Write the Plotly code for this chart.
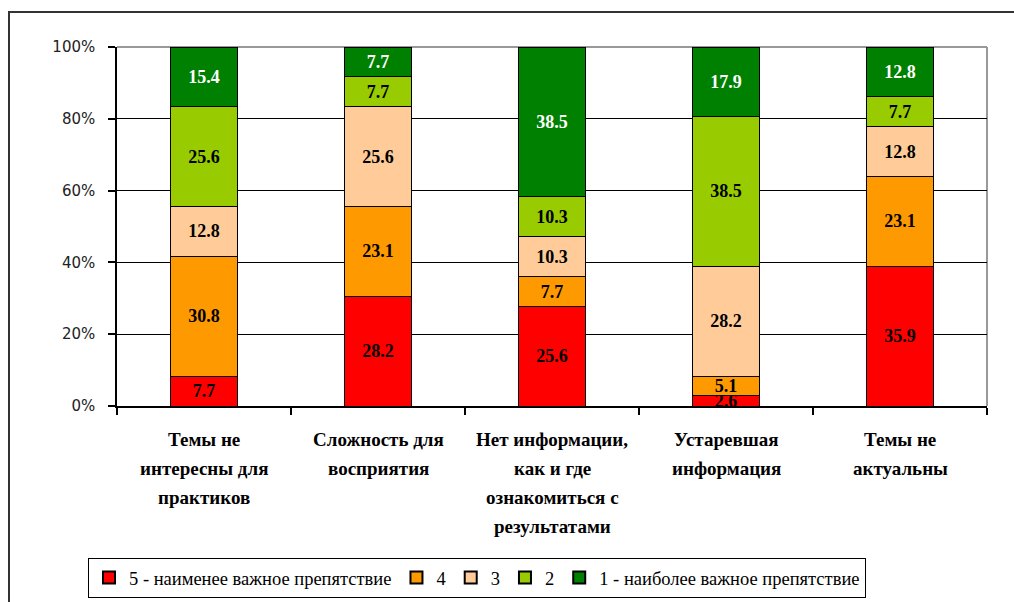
import plotly.graph_objects as go

categories = [
    "Темы не<br>интересны для<br>практиков",
    "Сложность для<br>восприятия",
    "Нет информации,<br>как и где<br>ознакомиться с<br>результатами",
    "Устаревшая<br>информация",
    "Темы не<br>актуальны",
]
series_names = [
    "5 - наименее важное препятствие",
    "4",
    "3",
    "2",
    "1 - наиболее важное препятствие",
]
s5 = [7.7, 28.2, 25.6, 2.6, 35.9]
s4 = [30.8, 23.1, 7.7, 5.1, 23.1]
s3 = [12.8, 25.6, 10.3, 28.2, 12.8]
s2 = [25.6, 7.7, 10.3, 38.5, 7.7]
s1 = [15.4, 7.7, 38.5, 17.9, 12.8]
series_values = [s5, s4, s3, s2, s1]
colors = ["#FF0000", "#FF9900", "#FFCC99", "#99CC00", "#008000"]
text_colors = ["#000000", "#000000", "#000000", "#000000", "#FFFFFF"]
y_ticks = [0, 20, 40, 60, 80, 100]

x_keys = [c.replace("<br>", " ") for c in categories]

fig = go.Figure()
for name, vals, col, tcol in zip(series_names, series_values, colors, text_colors):
    fig.add_trace(go.Bar(
        x=x_keys, y=vals, name=name,
        marker=dict(color=col, line=dict(color="#000000", width=1)),
        text=[f"{v:.1f}" for v in vals],
        texttemplate="%{text}",
        textposition="inside",
        insidetextanchor="middle",
        textangle=0,
        insidetextfont=dict(family="Liberation Serif", size=18, color=tcol, weight="bold"),
        cliponaxis=False,
    ))

L, R, T, B = 117, 27, 47, 196
W, H = 1014, 602
pw, ph = W - L - R, H - T - B

def px_x(x):
    return (x - L) / pw

def px_y(y):
    return (H - B - y) / ph

shapes = [
    # outer chart frame
    dict(type="rect", xref="paper", yref="paper",
         x0=px_x(9), x1=px_x(1030), y0=px_y(620), y1=px_y(12),
         line=dict(color="#333333", width=2), fillcolor="rgba(0,0,0,0)", layer="below"),
    # plot area top/right frame (gray)
    dict(type="line", xref="paper", yref="paper", x0=0, x1=1, y0=1, y1=1,
         line=dict(color="#999999", width=2), layer="between"),
    dict(type="line", xref="paper", yref="paper", x0=1, x1=1, y0=0, y1=1,
         line=dict(color="#999999", width=2), layer="between"),
]

annotations = []
for key, cat in zip(x_keys, categories):
    for i, line in enumerate(cat.split("<br>")):
        annotations.append(dict(
            x=key, y=0, xref="x", yref="paper", text=line, showarrow=False,
            yanchor="middle", xanchor="center", yshift=-(33 + 29 * i),
            font=dict(family="Liberation Serif", size=19, color="#000000", weight="bold"),
        ))

fig.update_layout(
    width=W, height=H,
    barmode="stack", barnorm="percent", bargap=0.615,
    margin=dict(l=L, r=R, t=T, b=B, pad=0),
    paper_bgcolor="#FFFFFF", plot_bgcolor="#FFFFFF",
    showlegend=True,
    legend=dict(
        orientation="h", xref="container", yref="container",
        x=88 / W, xanchor="left", y=1 - 558 / H, yanchor="top",
        bgcolor="#FFFFFF", bordercolor="#000000", borderwidth=1,
        font=dict(family="Liberation Serif", size=18.5, color="#000000"),
        traceorder="normal", itemsizing="constant",
    ),
    uniformtext=dict(minsize=18, mode="show"),
    shapes=shapes,
    annotations=annotations,
)
fig.update_xaxes(
    type="category", showticklabels=False, showgrid=False,
    showline=True, linecolor="#000000", linewidth=1.5,
    ticks="outside", tickson="boundaries", ticklen=7, tickcolor="#000000", tickwidth=1.5,
    range=[-0.5, 4.5], fixedrange=True,
)
fig.update_yaxes(
    range=[0, 100], tickvals=y_ticks, ticktext=[f"{v}%" for v in y_ticks],
    showgrid=True, gridcolor="#000000", gridwidth=1,
    showline=True, linecolor="#000000", linewidth=1.5,
    ticks="outside", ticklen=7, tickcolor="#000000", tickwidth=1.5,
    ticklabelstandoff=10,
    tickfont=dict(family="DejaVu Sans", size=15, color="#222222"),
    zeroline=False, fixedrange=True,
)

fig.write_html(
    "out.html",
    config={"displayModeBar": False},
    post_script="document.body.style.margin='0';document.body.style.padding='0';document.body.style.overflow='hidden';",
)
